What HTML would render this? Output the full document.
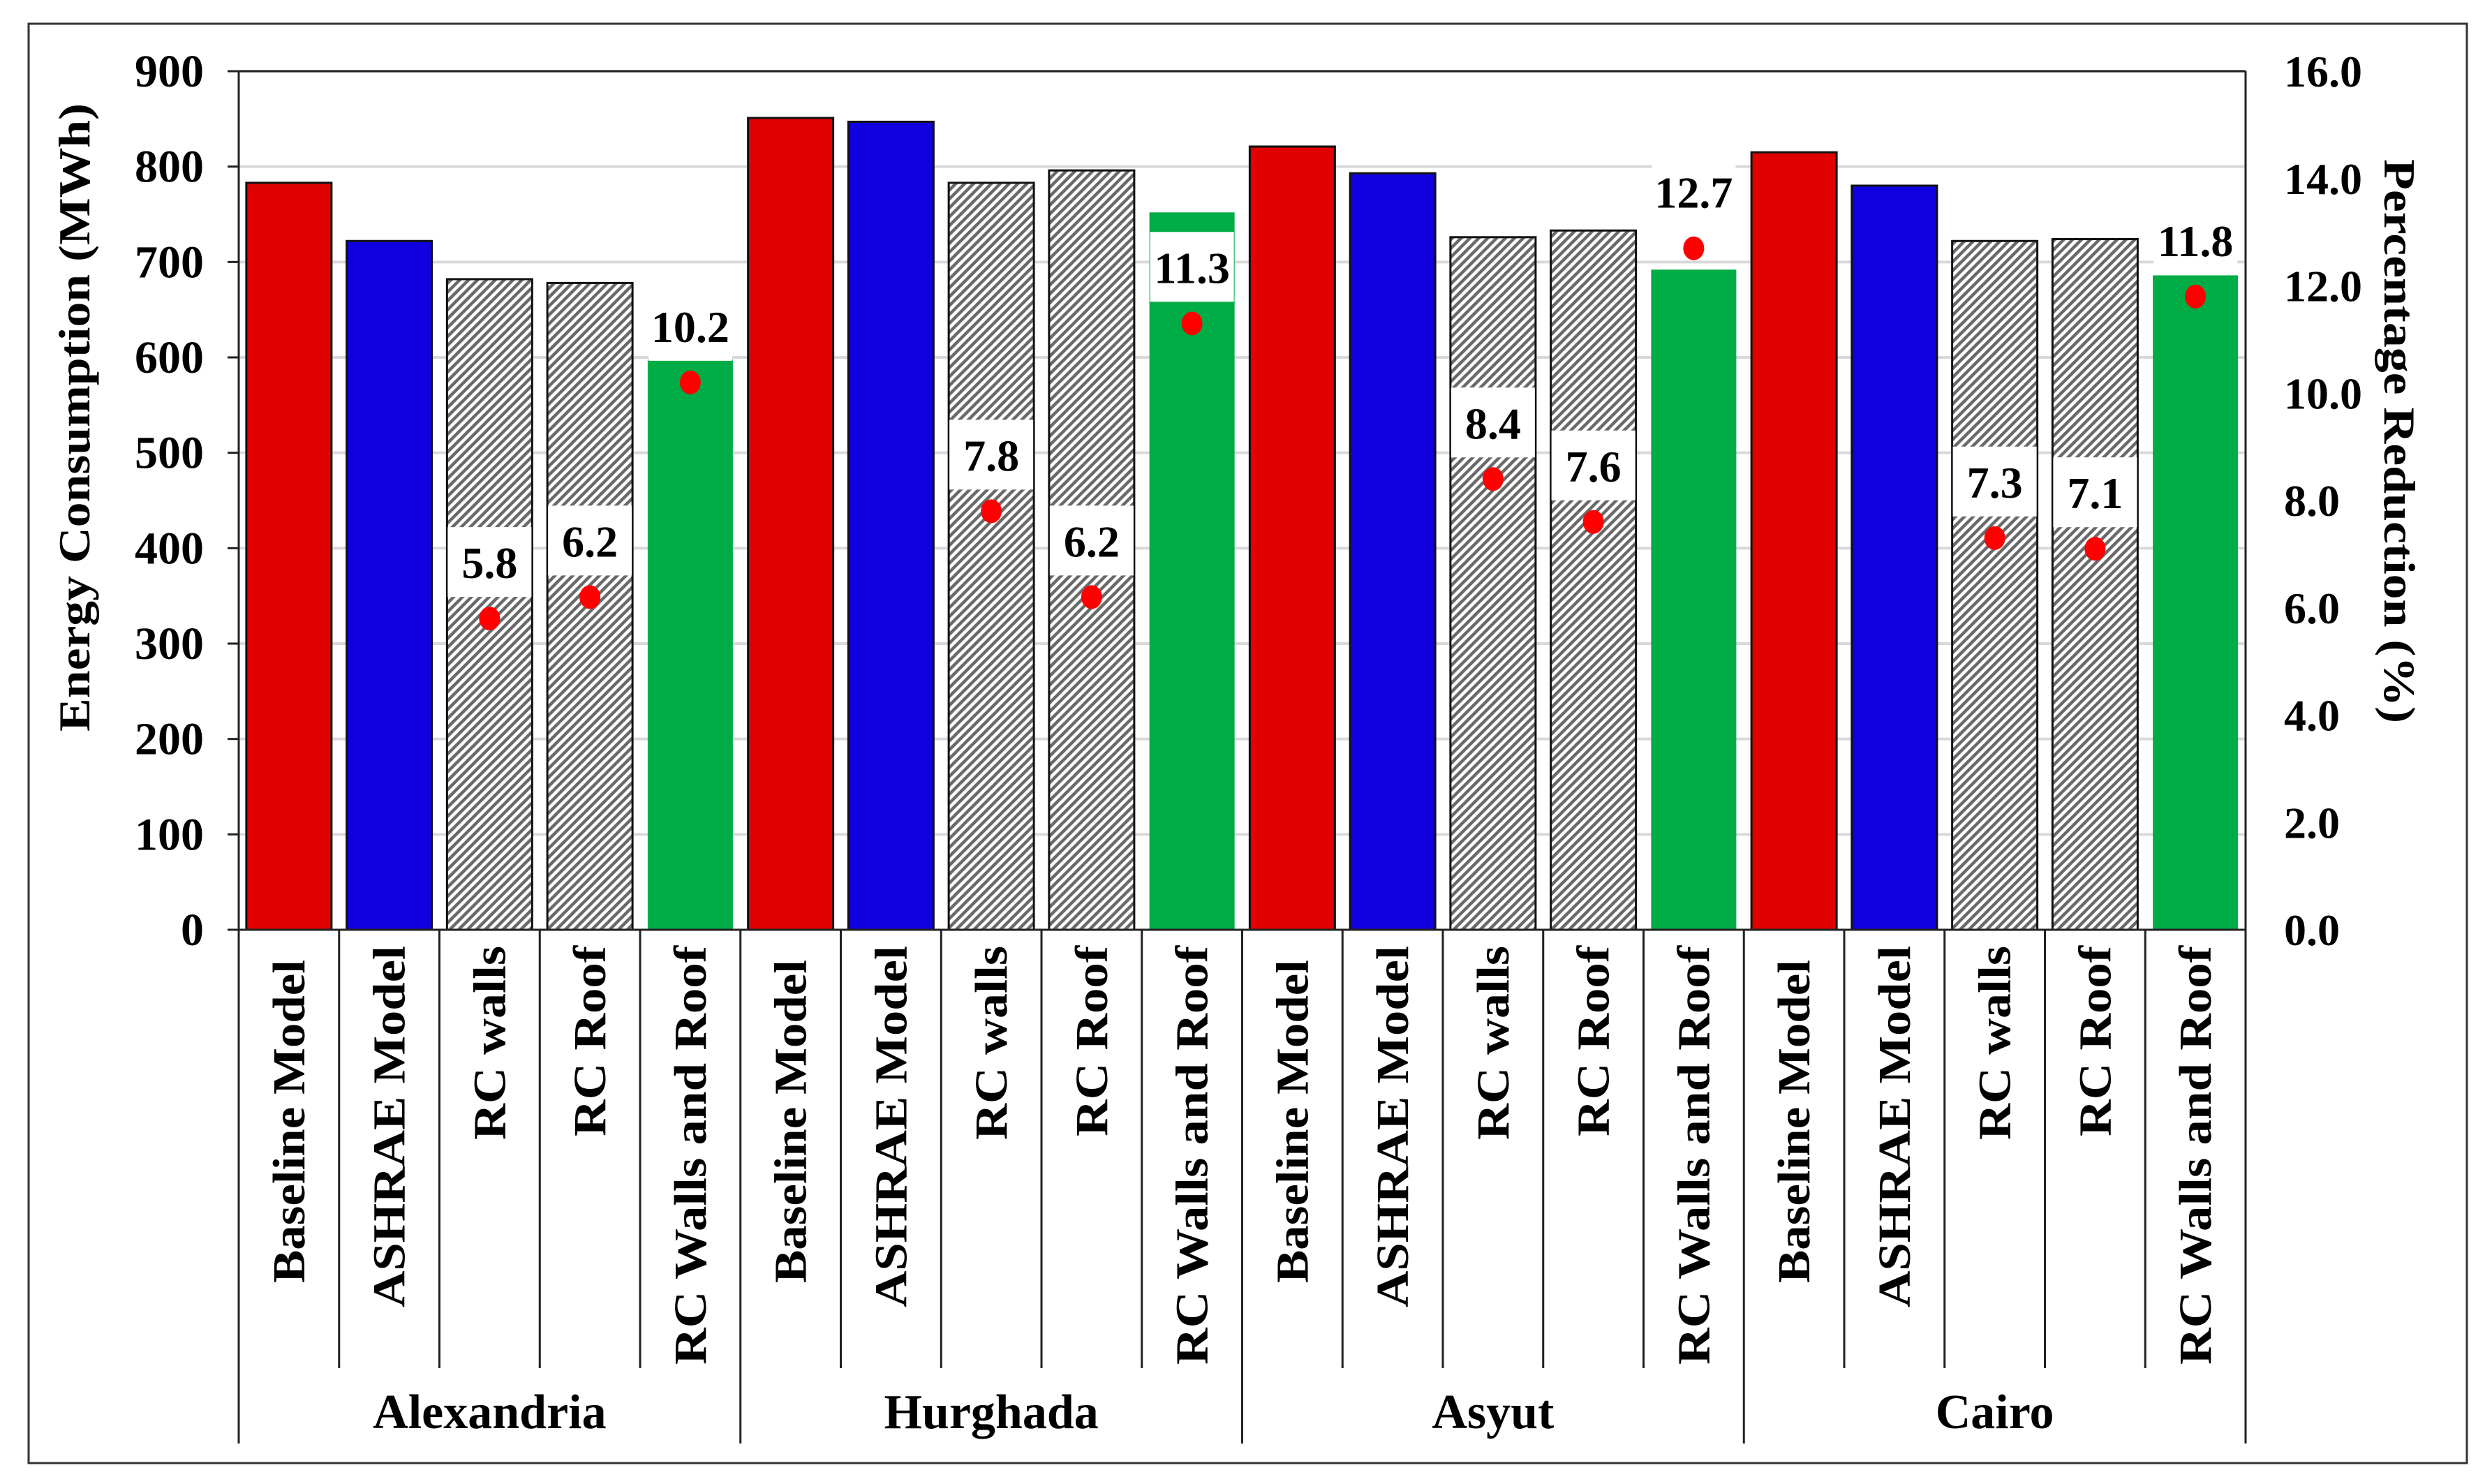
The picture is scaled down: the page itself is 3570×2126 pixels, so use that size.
<!DOCTYPE html>
<html><head><meta charset="utf-8"><style>
html,body{margin:0;padding:0;background:#fff;}
svg{display:block;font-family:"Liberation Serif",serif;font-weight:bold;}
</style></head><body>
<svg id="chart" width="3570" height="2126" viewBox="0 0 3570 2126" xmlns="http://www.w3.org/2000/svg">
<defs>
<pattern id="hatch" patternUnits="userSpaceOnUse" width="9" height="9" patternTransform="rotate(45)">
<rect width="9" height="9" fill="#fff"/>
<rect width="4.5" height="9" fill="#6a6a6a"/>
</pattern>
</defs>
<rect x="41" y="34" width="3493" height="2062" fill="#fff" stroke="#333" stroke-width="3"/>
<g id="grid"></g>
<g id="bars"></g>
<g id="labels"></g>
<g id="axes"></g>
</svg>
<script>
const groups = ["Alexandria","Hurghada","Asyut","Cairo"];
const categories = ["Baseline Model","ASHRAE Model","RC walls","RC Roof","RC Walls and Roof"];
const energyAlexandria = [783,722,682,678,598];
const energyHurghada = [851,847,783,796,752];
const energyAsyut = [821,793,726,733,692];
const energyCairo = [815,780,722,724,686];
const reductionAlexandria = [5.8,6.2,10.2];
const reductionHurghada = [7.8,6.2,11.3];
const reductionAsyut = [8.4,7.6,12.7];
const reductionCairo = [7.3,7.1,11.8];
const leftTicks = [0,100,200,300,400,500,600,700,800,900];
const rightTicks = ["0.0","2.0","4.0","6.0","8.0","10.0","12.0","14.0","16.0"];

const energy = [energyAlexandria,energyHurghada,energyAsyut,energyCairo];
const reduction = [reductionAlexandria,reductionHurghada,reductionAsyut,reductionCairo];
const NS="http://www.w3.org/2000/svg";
const X0=342,X1=3217,Y0=1332,YT=102;
const nCat=groups.length*categories.length;
const step=(X1-X0)/nCat;
const yL=v=>Y0-(v/900)*(Y0-YT);
const yR=v=>Y0-(v/16)*(Y0-YT);
const xC=i=>X0+step*(i+0.5);
const colors=["#e00000","#1000e0","url(#hatch)","url(#hatch)","#00ac46"];
function mk(tag,attrs,parent,text){const e=document.createElementNS(NS,tag);for(const k in attrs)e.setAttribute(k,attrs[k]);if(text!==undefined)e.textContent=text;parent.appendChild(e);return e;}
const G=document.getElementById('grid'),B=document.getElementById('bars'),L=document.getElementById('labels'),A=document.getElementById('axes');

leftTicks.forEach(t=>{
  if(t>0){const gl=mk('line',{x1:X0,x2:X1,y1:yL(t),y2:yL(t),stroke:'#d9d9d9','stroke-width':4},G);
  
  }
  const tl=mk('text',{x:292,y:yL(t)+22,'text-anchor':'end','font-size':66},A,String(t));
  
  
  mk('line',{x1:326,x2:X0,y1:yL(t),y2:yL(t),stroke:'#222','stroke-width':3},A);
});
rightTicks.forEach(t=>{
  const tl=mk('text',{x:3272,y:yR(parseFloat(t))+22,'font-size':64},A,t);
  
  
});

energy.forEach((vals,g)=>{
  vals.forEach((v,c)=>{
    const i=g*categories.length+c;
    const bw=122;
    const r=mk('rect',{x:xC(i)-bw/2,y:yL(v),width:bw,height:Y0-yL(v),fill:colors[c],stroke:c===4?'none':'#111','stroke-width':c===4?0:3},B);
    
    
  });
  reduction[g].forEach((p,k)=>{
    const c=k+2,i=g*categories.length+c;
    const cy=yR(p);
    const box=mk('rect',{x:xC(i)-60,y:cy-131,width:120,height:100,fill:'#fff'},L);
    
    
    const tx=mk('text',{x:xC(i),y:cy-58,'text-anchor':'middle','font-size':64},L,p.toFixed(1));
    
    
    const dot=mk('ellipse',{cx:xC(i),cy:cy,rx:15,ry:17,fill:'#ff0000'},L);
    
    
  });
});

// axes frame
mk('line',{x1:X0,x2:X0,y1:YT,y2:Y0,stroke:'#222','stroke-width':3},A);
mk('line',{x1:X1,x2:X1,y1:YT,y2:Y0,stroke:'#222','stroke-width':3},A);
mk('line',{x1:X0,x2:X1,y1:YT,y2:YT,stroke:'#222','stroke-width':3},A);
mk('line',{x1:326,x2:X1,y1:Y0,y2:Y0,stroke:'#222','stroke-width':3},A);
const lens={"Baseline Model":463,"ASHRAE Model":518,"RC walls":278,"RC Roof":273,"RC Walls and Roof":600};
for(let i=0;i<=nCat;i++){
  const x=X0+step*i;
  const major=i%categories.length===0;
  mk('line',{x1:x,x2:x,y1:Y0,y2:major?2068:1960,stroke:'#222','stroke-width':3},A);
}
for(let i=0;i<nCat;i++){
  const name=categories[i%categories.length];
  const ye=name==="Baseline Model"?1375:1355;
  const bx=xC(i)+22;
  const t=mk('text',{x:0,y:0,'text-anchor':'end','font-size':66,textLength:lens[name],lengthAdjust:'spacingAndGlyphs',transform:`translate(${bx},${ye}) rotate(-90)`},A,name);
  
  
}
groups.forEach((g,k)=>{
  const cx=X0+step*categories.length*(k+0.5);
  const t=mk('text',{x:cx,y:2046,'text-anchor':'middle','font-size':70},A,g);
  
  
});
const yt=mk('text',{x:0,y:0,'text-anchor':'middle','font-size':64,textLength:900,lengthAdjust:'spacingAndGlyphs',transform:'translate(128,598) rotate(-90)'},A,'Energy Consumption (MWh)');


const rt=mk('text',{x:0,y:0,'text-anchor':'middle','font-size':64,textLength:808,lengthAdjust:'spacingAndGlyphs',transform:'translate(3416,632) rotate(90)'},A,'Percentage Reduction (%)');


</script>
</body></html>
